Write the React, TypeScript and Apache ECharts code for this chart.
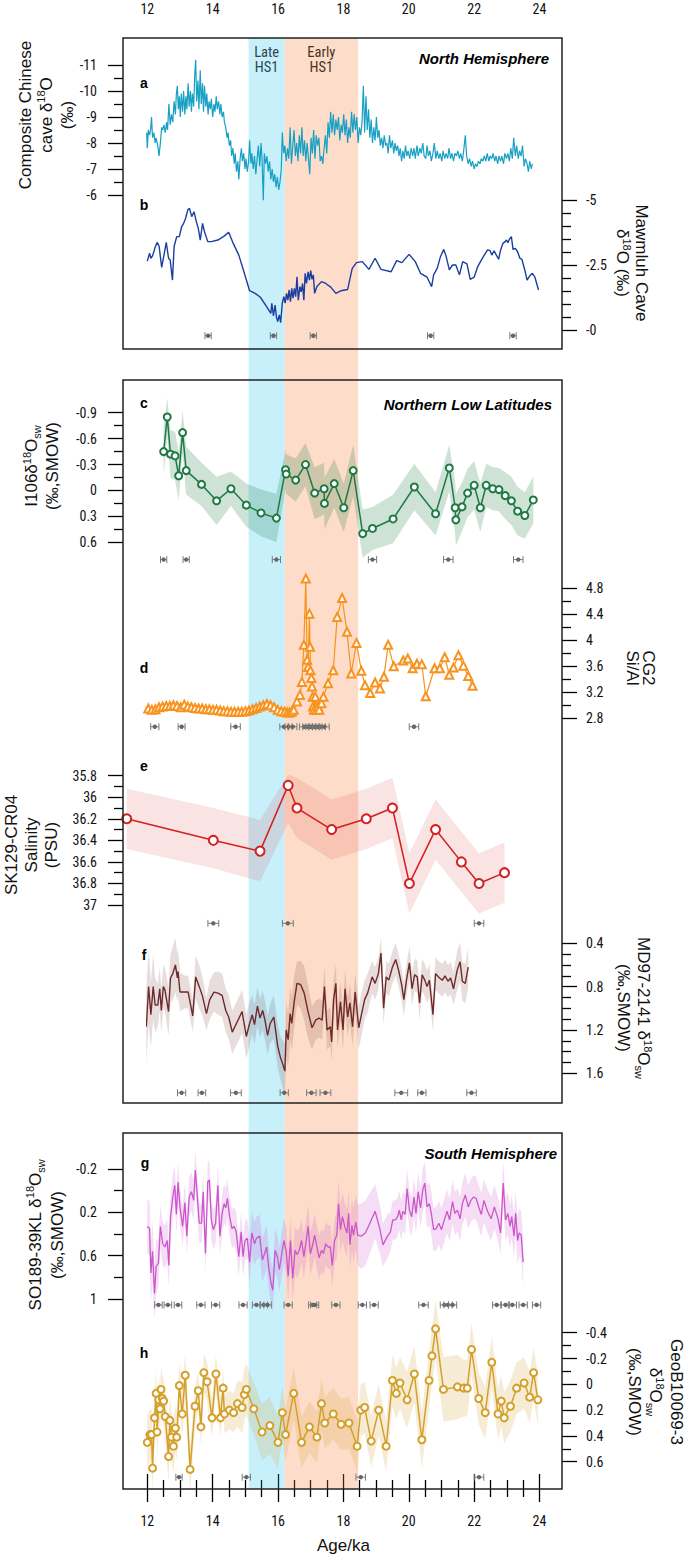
import React, { useEffect, useRef } from 'react';
import * as echarts from 'echarts';

// ---------- DATA ----------
// (a) Composite Chinese cave d18O  [age ka, permil]
const caveA: number[][] = [[11.98,-8.4],[12.0,-7.8],[12.03,-8.5],[12.07,-8.3],[12.1,-8.5],[12.13,-9.0],[12.16,-8.2],[12.2,-8.4],[12.24,-8.0],[12.27,-8.2],[12.32,-7.9],[12.36,-7.5],[12.4,-8.0],[12.44,-8.6],[12.47,-8.5],[12.51,-8.7],[12.55,-8.4],[12.59,-8.8],[12.62,-8.5],[12.66,-9.5],[12.7,-8.7],[12.74,-9.1],[12.78,-8.8],[12.82,-9.6],[12.86,-9.1],[12.89,-9.9],[12.92,-10.2],[12.95,-9.3],[12.98,-9.8],[13.01,-9.0],[13.04,-9.9],[13.08,-9.2],[13.11,-10.0],[13.15,-9.1],[13.18,-9.8],[13.21,-9.3],[13.25,-10.3],[13.28,-9.4],[13.32,-10.0],[13.35,-9.2],[13.38,-9.9],[13.42,-9.4],[13.45,-10.6],[13.48,-11.2],[13.51,-9.6],[13.55,-10.4],[13.58,-9.3],[13.62,-10.8],[13.65,-9.5],[13.69,-10.3],[13.72,-9.2],[13.75,-10.2],[13.79,-9.4],[13.82,-9.9],[13.86,-9.1],[13.89,-9.6],[13.93,-9.3],[13.96,-9.7],[14.0,-9.0],[14.04,-9.5],[14.07,-9.2],[14.11,-9.8],[14.14,-9.3],[14.18,-9.6],[14.22,-9.1],[14.25,-9.5],[14.29,-9.0],[14.33,-9.2],[14.36,-8.8],[14.4,-8.6],[14.44,-8.2],[14.47,-8.4],[14.51,-7.9],[14.55,-8.1],[14.58,-7.5],[14.62,-7.8],[14.66,-7.2],[14.69,-7.6],[14.73,-6.9],[14.77,-7.3],[14.8,-6.6],[14.84,-7.4],[14.88,-7.8],[14.91,-7.3],[14.95,-7.6],[14.99,-7.0],[15.02,-7.4],[15.06,-6.9],[15.1,-7.3],[15.13,-8.1],[15.17,-7.2],[15.2,-7.6],[15.24,-7.0],[15.28,-7.5],[15.32,-6.8],[15.36,-7.4],[15.4,-7.9],[15.44,-7.1],[15.48,-8.0],[15.51,-7.4],[15.55,-5.8],[15.58,-7.6],[15.62,-7.2],[15.66,-7.5],[15.7,-6.9],[15.74,-7.3],[15.78,-6.6],[15.82,-7.0],[15.86,-6.5],[15.9,-6.8],[15.94,-6.3],[15.98,-6.7],[16.02,-6.2],[16.06,-6.5],[16.1,-7.0],[16.13,-8.4],[16.17,-7.6],[16.21,-7.9],[16.25,-7.3],[16.29,-7.8],[16.33,-7.4],[16.37,-8.6],[16.41,-7.2],[16.45,-7.9],[16.49,-8.5],[16.53,-7.5],[16.57,-8.0],[16.61,-7.3],[16.65,-8.3],[16.69,-7.6],[16.73,-8.6],[16.77,-7.5],[16.81,-8.1],[16.85,-7.3],[16.89,-8.0],[16.93,-7.4],[16.97,-6.8],[17.01,-8.2],[17.05,-7.6],[17.09,-8.5],[17.13,-7.4],[17.17,-8.3],[17.21,-7.9],[17.25,-8.2],[17.29,-7.3],[17.33,-7.5],[17.37,-7.2],[17.41,-7.8],[17.45,-8.3],[17.49,-7.6],[17.53,-8.8],[17.57,-8.2],[17.61,-9.2],[17.65,-8.4],[17.69,-9.1],[17.73,-8.3],[17.77,-8.9],[17.81,-8.5],[17.85,-9.0],[17.89,-8.1],[17.93,-8.7],[17.97,-8.4],[18.01,-9.1],[18.05,-8.3],[18.09,-8.9],[18.13,-8.0],[18.17,-8.6],[18.21,-8.2],[18.25,-9.2],[18.29,-8.4],[18.33,-9.1],[18.37,-8.5],[18.41,-9.0],[18.45,-8.0],[18.49,-8.6],[18.53,-8.3],[18.57,-8.8],[18.61,-10.2],[18.65,-8.4],[18.69,-9.8],[18.73,-8.5],[18.77,-9.3],[18.81,-8.2],[18.85,-8.9],[18.89,-8.0],[18.93,-8.6],[18.97,-8.1],[19.01,-9.0],[19.05,-8.2],[19.09,-8.5],[19.13,-7.9],[19.17,-8.2],[19.21,-7.8],[19.25,-8.3],[19.29,-7.9],[19.33,-8.0],[19.37,-7.6],[19.41,-8.3],[19.45,-7.8],[19.5,-8.1],[19.54,-7.6],[19.58,-8.0],[19.62,-7.7],[19.66,-7.9],[19.7,-7.5],[19.74,-7.8],[19.78,-7.3],[19.82,-7.7],[19.86,-7.4],[19.9,-7.9],[19.94,-7.5],[19.98,-7.7],[20.03,-7.4],[20.07,-7.8],[20.12,-7.5],[20.16,-7.8],[20.2,-7.4],[20.25,-7.9],[20.29,-7.5],[20.34,-7.8],[20.38,-7.6],[20.43,-8.0],[20.47,-7.5],[20.52,-7.4],[20.56,-7.9],[20.6,-7.5],[20.65,-7.7],[20.69,-7.3],[20.74,-7.6],[20.78,-8.0],[20.83,-7.4],[20.87,-7.7],[20.92,-7.4],[20.96,-7.6],[21.01,-7.3],[21.05,-7.7],[21.1,-7.4],[21.14,-7.6],[21.19,-7.4],[21.23,-7.8],[21.28,-7.4],[21.32,-7.6],[21.37,-7.3],[21.41,-7.6],[21.46,-7.5],[21.5,-7.7],[21.55,-7.4],[21.59,-7.6],[21.64,-7.3],[21.68,-7.7],[21.73,-8.3],[21.77,-7.5],[21.82,-7.2],[21.86,-7.4],[21.91,-7.1],[21.95,-7.3],[22.0,-7.0],[22.04,-7.2],[22.09,-7.1],[22.13,-7.3],[22.18,-7.2],[22.22,-7.4],[22.27,-7.3],[22.31,-7.5],[22.36,-7.3],[22.4,-7.6],[22.45,-7.3],[22.49,-7.5],[22.54,-7.4],[22.58,-7.6],[22.63,-7.3],[22.67,-7.5],[22.72,-7.2],[22.76,-7.5],[22.81,-7.3],[22.85,-7.5],[22.9,-7.2],[22.94,-7.6],[22.99,-7.4],[23.03,-7.6],[23.08,-7.3],[23.12,-7.8],[23.17,-7.4],[23.21,-8.2],[23.26,-7.5],[23.3,-7.9],[23.35,-7.4],[23.39,-7.7],[23.44,-7.5],[23.48,-7.9],[23.53,-7.1],[23.57,-7.4],[23.62,-7.2],[23.66,-6.9],[23.7,-7.3],[23.75,-7.0],[23.78,-7.2]];

// (b) Mawmluh Cave d18O
const mawmluhB: number[][] = [[12.0,-2.65],[12.07,-2.95],[12.11,-2.76],[12.16,-2.85],[12.23,-3.14],[12.3,-3.37],[12.36,-3.23],[12.44,-2.41],[12.51,-2.88],[12.58,-3.37],[12.65,-2.76],[12.7,-2.69],[12.77,-1.92],[12.82,-3.21],[12.9,-3.59],[12.98,-3.59],[13.05,-3.97],[13.11,-4.1],[13.17,-4.29],[13.24,-4.62],[13.29,-4.68],[13.36,-4.36],[13.43,-4.55],[13.5,-4.17],[13.56,-3.91],[13.62,-3.46],[13.69,-4.1],[13.75,-3.78],[13.85,-3.4],[13.96,-3.4],[14.16,-3.46],[14.36,-3.62],[14.49,-3.76],[14.63,-3.33],[14.8,-2.88],[14.97,-2.18],[15.13,-1.51],[15.3,-1.41],[15.46,-1.26],[15.64,-0.92],[15.78,-0.64],[15.81,-1.03],[15.86,-0.54],[15.91,-0.96],[15.95,-0.51],[15.99,-0.32],[16.04,-0.58],[16.08,-0.28],[16.13,-1.03],[16.18,-1.28],[16.22,-1.03],[16.26,-1.41],[16.3,-1.15],[16.34,-1.54],[16.38,-1.09],[16.42,-1.6],[16.46,-1.22],[16.5,-1.6],[16.54,-1.28],[16.58,-2.05],[16.62,-1.15],[16.67,-1.67],[16.71,-1.47],[16.75,-1.79],[16.79,-1.15],[16.83,-2.18],[16.87,-1.79],[16.92,-2.24],[16.96,-1.92],[17.0,-2.28],[17.04,-1.95],[17.08,-2.12],[17.12,-1.41],[17.19,-1.67],[17.33,-1.86],[17.46,-1.79],[17.62,-1.64],[17.77,-1.41],[17.93,-1.51],[18.13,-1.56],[18.27,-2.37],[18.4,-2.59],[18.58,-2.63],[18.78,-2.33],[18.97,-2.76],[19.15,-2.33],[19.46,-2.24],[19.63,-2.67],[19.79,-2.59],[20.01,-2.91],[20.2,-2.63],[20.36,-2.18],[20.56,-2.03],[20.7,-1.67],[20.76,-2.12],[20.87,-2.37],[20.97,-2.82],[21.07,-3.1],[21.14,-2.85],[21.24,-2.31],[21.34,-2.5],[21.44,-2.5],[21.55,-2.12],[21.65,-2.63],[21.78,-2.54],[21.88,-1.95],[22.0,-2.03],[22.11,-2.44],[22.22,-2.69],[22.31,-2.88],[22.41,-3.08],[22.49,-3.05],[22.54,-2.88],[22.61,-3.05],[22.68,-2.88],[22.75,-2.72],[22.81,-3.08],[22.88,-3.33],[22.95,-3.4],[22.99,-3.46],[23.03,-3.36],[23.08,-3.49],[23.14,-3.59],[23.19,-3.1],[23.26,-3.14],[23.33,-3.01],[23.4,-2.76],[23.46,-2.72],[23.55,-2.31],[23.62,-1.92],[23.7,-2.08],[23.78,-2.18],[23.86,-2.03],[23.97,-1.54]];
const agesB: number[][] = [[13.86,0.05],[15.86,0.05],[17.08,0.05],[20.67,0.05],[23.19,0.05]];

// (c) I106 d18Osw  [age, value, 1-sigma]
const i106C: number[][] = [[12.5,-0.45,0.28],[12.61,-0.85,0.22],[12.71,-0.42,0.28],[12.85,-0.4,0.28],[12.96,-0.17,0.28],[13.08,-0.67,0.25],[13.19,-0.23,0.28],[13.66,-0.07,0.25],[14.12,0.12,0.28],[14.56,-0.02,0.2],[15.03,0.17,0.25],[15.48,0.26,0.27],[15.95,0.32,0.28],[16.23,-0.24,0.23],[16.25,-0.19,0.23],[16.54,-0.12,0.25],[16.84,-0.3,0.25],[17.12,0.03,0.3],[17.41,-0.02,0.3],[17.42,0.15,0.3],[17.72,-0.08,0.28],[18.01,0.2,0.28],[18.3,-0.23,0.3],[18.59,0.5,0.28],[18.89,0.44,0.25],[19.52,0.33,0.28],[20.17,-0.04,0.27],[20.82,0.27,0.25],[21.24,-0.26,0.27],[21.42,0.2,0.3],[21.44,0.34,0.3],[21.63,0.19,0.28],[21.8,0.03,0.28],[22.0,-0.06,0.28],[22.19,0.2,0.28],[22.37,-0.06,0.25],[22.57,-0.02,0.25],[22.76,-0.01,0.25],[22.95,0.06,0.27],[23.14,0.12,0.28],[23.33,0.24,0.28],[23.55,0.29,0.27],[23.81,0.11,0.27]];
const agesC: number[][] = [[12.5,0.05],[13.19,0.05],[15.95,0.08],[18.89,0.08],[21.21,0.1],[23.35,0.1]];

// (d) CG2 Si/Al
const cg2D: number[][] = [[12.03,2.95],[12.14,2.93],[12.25,2.94],[12.36,2.97],[12.47,2.98],[12.58,2.99],[12.69,2.99],[12.8,3.0],[12.91,2.99],[13.02,2.97],[13.13,3.01],[13.24,2.98],[13.35,2.97],[13.46,2.96],[13.57,2.95],[13.68,2.95],[13.79,2.94],[13.9,2.94],[14.01,2.93],[14.12,2.93],[14.23,2.92],[14.34,2.91],[14.45,2.91],[14.56,2.9],[14.67,2.9],[14.78,2.9],[14.89,2.9],[15.0,2.91],[15.11,2.92],[15.22,2.94],[15.33,2.96],[15.44,2.98],[15.55,3.0],[15.66,3.02],[15.77,3.0],[15.88,2.97],[15.99,2.93],[16.1,2.91],[16.2,2.9],[16.28,2.89],[16.35,2.89],[16.42,2.9],[16.48,2.93],[16.58,3.06],[16.67,3.16],[16.73,3.36],[16.79,3.93],[16.85,4.95],[16.89,3.7],[16.92,3.59],[16.96,4.41],[16.98,3.9],[16.99,3.54],[17.02,3.42],[17.04,3.29],[17.06,3.13],[17.07,2.98],[17.1,2.93],[17.14,3.13],[17.18,2.93],[17.22,2.98],[17.26,2.93],[17.33,3.03],[17.39,3.13],[17.53,3.34],[17.69,3.54],[17.81,4.36],[17.96,4.65],[18.11,4.13],[18.24,3.49],[18.4,3.96],[18.55,3.53],[18.66,3.31],[18.82,3.19],[18.97,3.35],[19.12,3.26],[19.24,3.44],[19.37,3.93],[19.54,3.6],[19.83,3.69],[19.97,3.72],[20.12,3.57],[20.25,3.64],[20.4,3.63],[20.52,3.14],[20.79,3.57],[20.95,3.57],[21.1,3.74],[21.24,3.47],[21.37,3.58],[21.52,3.77],[21.67,3.61],[21.82,3.45],[21.95,3.3]];
const agesD: number[][] = [[12.23,0.08],[13.05,0.06],[14.7,0.1],[16.18,0.08],[16.32,0.06],[16.45,0.08],[16.8,0.1],[16.9,0.1],[17.0,0.1],[17.1,0.1],[17.2,0.1],[17.3,0.1],[17.42,0.1],[20.16,0.1]];

// (e) SK129-CR04 salinity  [age, value, band low, band high]
const salinityE: number[][] = [[11.37,36.2,35.92,36.48],[14.02,36.4,36.1,36.66],[15.45,36.5,36.21,36.78],[16.31,35.89,35.79,36.24],[16.58,36.1,35.82,36.38],[17.64,36.3,36.02,36.58],[18.7,36.2,35.92,36.48],[19.5,36.1,35.82,36.38],[20.02,36.8,36.52,37.08],[20.82,36.3,36.02,36.58],[21.61,36.6,36.32,36.88],[22.15,36.8,36.52,37.08],[22.93,36.7,36.42,36.98]];
const agesE: number[][] = [[14.02,0.12],[16.3,0.12],[22.15,0.1]];

// (f) MD97-2141 d18Osw [age, value, 1-sigma]
const md97F: number[][] = [[11.97,1.17,0.35],[12.04,0.8,0.35],[12.11,1.06,0.3],[12.18,0.8,0.3],[12.24,0.97,0.25],[12.32,0.97,0.2],[12.38,0.82,0.2],[12.43,1.02,0.2],[12.49,0.8,0.2],[12.54,0.83,0.2],[12.65,1.03,0.22],[12.71,0.72,0.22],[12.78,0.68,0.25],[12.86,0.6,0.25],[12.92,0.72,0.22],[12.94,0.66,0.22],[13.0,0.85,0.18],[13.15,0.85,0.15],[13.25,0.85,0.15],[13.39,1.07,0.15],[13.48,0.71,0.2],[13.59,0.8,0.2],[13.69,0.89,0.18],[13.81,1.05,0.15],[13.91,0.92,0.18],[14.04,0.85,0.18],[14.16,0.86,0.2],[14.29,0.88,0.2],[14.4,1.02,0.2],[14.49,1.08,0.2],[14.6,1.22,0.2],[14.76,1.12,0.2],[14.9,1.03,0.2],[15.03,1.26,0.2],[15.13,1.14,0.2],[15.21,1.06,0.18],[15.28,1.15,0.18],[15.37,0.98,0.18],[15.45,1.09,0.18],[15.53,1.02,0.18],[15.6,1.11,0.18],[15.68,1.25,0.18],[15.76,1.14,0.18],[15.87,1.08,0.2],[15.99,1.35,0.2],[16.07,1.45,0.2],[16.15,1.52,0.22],[16.21,1.58,0.25],[16.25,1.2,0.25],[16.31,1.29,0.25],[16.37,1.05,0.25],[16.42,1.14,0.25],[16.49,0.95,0.25],[16.58,0.77,0.2],[16.69,0.78,0.22],[16.8,0.86,0.25],[16.91,1.02,0.25],[17.04,1.18,0.2],[17.15,1.11,0.18],[17.26,1.09,0.18],[17.35,1.11,0.18],[17.42,0.8,0.18],[17.5,1.2,0.18],[17.6,1.17,0.18],[17.64,1.31,0.18],[17.7,0.92,0.18],[17.77,0.77,0.18],[17.82,1.2,0.18],[17.91,0.94,0.18],[17.99,1.2,0.18],[18.05,0.82,0.18],[18.13,1.08,0.18],[18.2,0.95,0.18],[18.28,1.17,0.18],[18.36,0.85,0.18],[18.47,1.18,0.2],[18.55,1.06,0.2],[18.65,0.92,0.18],[18.74,0.86,0.18],[18.88,0.71,0.15],[18.97,0.77,0.15],[19.07,0.68,0.15],[19.15,0.49,0.15],[19.23,1.0,0.15],[19.31,0.71,0.15],[19.39,0.74,0.15],[19.5,0.62,0.15],[19.6,0.55,0.15],[19.69,0.65,0.15],[19.78,0.78,0.15],[19.85,0.92,0.15],[19.93,0.74,0.15],[20.02,0.58,0.15],[20.1,0.82,0.15],[20.18,0.69,0.15],[20.26,0.71,0.15],[20.33,0.95,0.15],[20.41,0.69,0.15],[20.49,0.74,0.15],[20.56,0.8,0.15],[20.63,0.74,0.15],[20.74,1.06,0.15],[20.82,0.68,0.15],[20.94,0.72,0.15],[21.03,0.74,0.15],[21.11,0.7,0.15],[21.2,0.75,0.15],[21.28,0.72,0.15],[21.37,0.82,0.15],[21.48,0.65,0.18],[21.57,0.57,0.18],[21.64,0.75,0.18],[21.73,0.77,0.18],[21.82,0.62,0.18]];
const agesF: number[][] = [[13.05,0.08],[13.67,0.07],[14.71,0.12],[16.19,0.08],[17.02,0.1],[17.45,0.12],[19.77,0.15],[20.4,0.08],[21.92,0.1]];

// (g) SO189-39KL d18Osw [age, value, 1-sigma]
const so189G: number[][] = [[12.0,0.33,0.25],[12.07,0.35,0.25],[12.11,0.76,0.28],[12.16,0.56,0.28],[12.22,0.95,0.25],[12.27,0.7,0.25],[12.34,0.67,0.22],[12.4,0.33,0.2],[12.47,0.49,0.2],[12.54,0.52,0.2],[12.61,0.46,0.2],[12.66,0.69,0.2],[12.71,0.24,0.2],[12.78,0.06,0.2],[12.84,-0.05,0.18],[12.89,0.22,0.18],[12.94,-0.08,0.18],[13.0,0.15,0.18],[13.08,0.33,0.18],[13.15,0.11,0.18],[13.21,0.42,0.18],[13.28,0.06,0.18],[13.35,0.01,0.18],[13.42,0.09,0.18],[13.47,-0.19,0.18],[13.52,0.01,0.18],[13.59,0.3,0.18],[13.66,0.3,0.18],[13.71,0.01,0.18],[13.78,0.58,0.18],[13.85,-0.08,0.18],[13.9,-0.1,0.18],[13.96,0.27,0.18],[14.02,0.36,0.18],[14.09,0.3,0.18],[14.16,-0.05,0.18],[14.22,0.42,0.18],[14.29,0.21,0.18],[14.35,0.12,0.18],[14.4,0.16,0.18],[14.45,0.07,0.18],[14.52,0.24,0.18],[14.59,0.35,0.18],[14.66,0.33,0.18],[14.72,0.38,0.18],[14.8,0.61,0.18],[14.87,0.38,0.18],[14.93,0.61,0.18],[14.99,0.46,0.18],[15.06,0.44,0.18],[15.13,0.66,0.2],[15.2,0.39,0.2],[15.28,0.49,0.2],[15.34,0.44,0.2],[15.44,0.42,0.2],[15.52,0.64,0.2],[15.59,0.58,0.2],[15.65,0.52,0.2],[15.72,0.72,0.2],[15.79,0.86,0.2],[15.84,0.92,0.2],[15.91,0.55,0.2],[15.98,0.61,0.2],[16.04,0.73,0.2],[16.11,0.59,0.2],[16.18,0.46,0.2],[16.25,0.56,0.22],[16.31,0.79,0.22],[16.38,0.46,0.22],[16.45,0.81,0.22],[16.52,0.55,0.22],[16.58,0.59,0.22],[16.65,0.55,0.2],[16.72,0.46,0.2],[16.79,0.61,0.2],[16.85,0.49,0.2],[16.92,0.33,0.2],[16.99,0.58,0.2],[17.06,0.5,0.2],[17.12,0.41,0.2],[17.19,0.52,0.2],[17.26,0.62,0.2],[17.33,0.55,0.2],[17.39,0.58,0.2],[17.46,0.49,0.2],[17.53,0.52,0.2],[17.6,0.52,0.2],[17.66,0.69,0.2],[17.73,0.46,0.2],[17.8,0.41,0.22],[17.85,0.12,0.22],[17.91,0.36,0.22],[17.97,0.24,0.22],[18.04,0.33,0.22],[18.11,0.39,0.22],[18.16,0.21,0.22],[18.2,0.5,0.22],[18.26,0.32,0.25],[18.31,0.41,0.25],[18.38,0.29,0.25],[18.44,0.41,0.28],[18.54,0.42,0.3],[18.67,0.39,0.3],[18.81,0.3,0.28],[18.97,0.19,0.25],[19.12,0.36,0.22],[19.21,0.5,0.2],[19.35,0.42,0.2],[19.44,0.38,0.18],[19.51,0.27,0.18],[19.59,0.27,0.18],[19.66,0.24,0.18],[19.71,0.18,0.18],[19.77,0.27,0.18],[19.82,0.19,0.18],[19.89,0.22,0.18],[19.95,-0.02,0.18],[20.02,0.18,0.18],[20.09,0.24,0.18],[20.16,0.06,0.18],[20.22,0.21,0.18],[20.29,0.01,0.18],[20.36,0.16,0.18],[20.43,-0.01,0.2],[20.49,-0.07,0.2],[20.56,0.15,0.2],[20.63,0.12,0.2],[20.69,0.21,0.2],[20.76,0.36,0.2],[20.84,0.35,0.2],[20.92,0.3,0.2],[21.0,0.36,0.2],[21.09,0.27,0.2],[21.17,0.19,0.2],[21.25,0.27,0.2],[21.34,0.1,0.2],[21.41,0.21,0.2],[21.49,0.18,0.2],[21.57,0.26,0.2],[21.64,0.12,0.2],[21.73,0.04,0.2],[21.82,0.15,0.2],[21.9,0.09,0.2],[21.98,0.06,0.2],[22.06,0.07,0.2],[22.14,0.15,0.2],[22.22,0.22,0.2],[22.3,0.09,0.2],[22.41,0.19,0.2],[22.52,0.26,0.2],[22.62,0.15,0.2],[22.73,0.26,0.2],[22.81,0.39,0.2],[22.89,-0.07,0.2],[22.96,0.27,0.2],[23.03,0.21,0.2],[23.1,0.33,0.2],[23.15,0.24,0.2],[23.22,0.42,0.2],[23.27,0.21,0.2],[23.33,0.46,0.22],[23.38,0.39,0.22],[23.44,0.41,0.22],[23.5,0.66,0.22]];
const agesG: number[][] = [[12.34,0.07],[12.63,0.07],[12.94,0.07],[13.64,0.08],[14.09,0.08],[14.93,0.08],[15.34,0.08],[15.56,0.07],[15.68,0.07],[16.31,0.08],[17.06,0.08],[17.12,0.08],[17.77,0.08],[18.58,0.08],[18.94,0.08],[20.45,0.1],[21.09,0.08],[21.2,0.08],[21.34,0.08],[22.69,0.08],[22.96,0.08],[23.17,0.08],[23.5,0.08],[23.91,0.08]];

// (h) GeoB10069-3 d18Osw [age, value, 1-sigma]
const geoH: number[][] = [[12.0,0.45,0.2],[12.08,0.39,0.2],[12.13,0.39,0.2],[12.16,0.65,0.2],[12.22,0.26,0.2],[12.27,0.07,0.2],[12.3,0.37,0.2],[12.35,0.12,0.18],[12.39,0.19,0.18],[12.42,0.04,0.18],[12.46,0.11,0.18],[12.5,0.13,0.18],[12.55,0.25,0.18],[12.65,0.56,0.2],[12.69,0.28,0.2],[12.74,0.41,0.2],[12.8,0.48,0.2],[12.86,0.34,0.18],[12.9,0.41,0.18],[12.98,0.01,0.18],[13.07,0.23,0.18],[13.16,-0.07,0.18],[13.31,0.66,0.18],[13.46,0.17,0.15],[13.56,0.05,0.15],[13.64,0.33,0.15],[13.73,-0.09,0.15],[13.83,-0.02,0.15],[13.98,0.26,0.15],[14.1,-0.08,0.15],[14.24,0.26,0.15],[14.32,0.03,0.15],[14.36,0.23,0.15],[14.51,0.2,0.15],[14.64,0.22,0.15],[14.76,0.15,0.18],[14.9,0.18,0.2],[14.97,0.08,0.2],[15.03,0.04,0.2],[15.26,0.19,0.2],[15.51,0.37,0.22],[15.75,0.32,0.22],[16.0,0.45,0.2],[16.13,0.22,0.2],[16.23,0.39,0.2],[16.48,0.07,0.2],[16.72,0.45,0.2],[16.96,0.33,0.2],[17.19,0.41,0.2],[17.33,0.15,0.2],[17.43,0.3,0.2],[17.69,0.23,0.2],[17.93,0.31,0.2],[18.17,0.3,0.2],[18.42,0.48,0.2],[18.53,0.2,0.2],[18.65,0.18,0.2],[18.85,0.44,0.2],[19.08,0.2,0.2],[19.31,0.48,0.2],[19.5,-0.03,0.2],[19.62,0.07,0.2],[19.73,-0.01,0.2],[19.95,0.12,0.22],[20.17,-0.08,0.22],[20.4,0.43,0.22],[20.62,-0.03,0.22],[20.71,-0.22,0.22],[20.82,-0.43,0.22],[21.06,0.04,0.25],[21.49,0.02,0.25],[21.68,0.03,0.22],[21.79,0.03,0.22],[21.92,-0.27,0.2],[22.14,0.11,0.2],[22.34,0.22,0.2],[22.54,-0.17,0.2],[22.73,0.23,0.2],[22.83,0.13,0.2],[22.92,0.26,0.2],[23.11,0.17,0.2],[23.3,0.03,0.2],[23.53,-0.01,0.2],[23.7,0.1,0.2],[23.82,-0.09,0.2],[23.95,0.12,0.2]];
const agesH: number[][] = [[12.97,0.05],[15.03,0.08],[18.53,0.1],[22.15,0.1]];

// Heinrich stadial 1 phases [start, end] ka
const lateHS1 = [15.1, 16.2];
const earlyHS1 = [16.2, 18.45];
const ageTicks = { min: 12, max: 24, step: 2 };

// ---------- LAYOUT / STYLE ----------
const NARROW = '"Liberation Sans Narrow", "Arial Narrow", "Roboto Condensed", sans-serif';
const SANS = '"Liberation Sans", Arial, Helvetica, sans-serif';
const X_L = 147.3;
const X_W = 392.2;
const BOX_L = 123;
const BOX_R = 562;
const BOXES = [[38, 349], [380, 1103], [1133, 1489]];

type Panel = { top: number; height: number; min: number; max: number; interval: number; minor: number; inverse: boolean; side: 'left' | 'right'; wide?: boolean; fmt?: (v: number) => string };
const panels: Panel[] = [
  { top: 65, height: 130, min: -11, max: -6, interval: 1, minor: 2, inverse: true, side: 'left' },
  { top: 200, height: 130, min: -5, max: 0, interval: 2.5, minor: 5, inverse: true, side: 'right', fmt: (v) => (v === 0 ? '-0' : String(v)) },
  { top: 412.7, height: 129.6, min: -0.9, max: 0.6, interval: 0.3, minor: 2, inverse: true, side: 'left' },
  { top: 588.3, height: 130, min: 2.8, max: 4.8, interval: 0.4, minor: 2, inverse: false, side: 'right' },
  { top: 775.7, height: 129.3, min: 35.8, max: 37, interval: 0.2, minor: 2, inverse: true, side: 'left', wide: true },
  { top: 943.3, height: 130, min: 0.4, max: 1.6, interval: 0.4, minor: 4, inverse: true, side: 'right' },
  { top: 1169, height: 130, min: -0.2, max: 1.0, interval: 0.4, minor: 2, inverse: true, side: 'left' },
  { top: 1332.7, height: 129, min: -0.4, max: 0.6, interval: 0.2, minor: 2, inverse: true, side: 'right' },
];

function ageMarkerItem(params: any, api: any) {
  const a = api.value(0), e = api.value(1), y = api.value(2);
  const p0 = api.coord([a - e, y]);
  const p1 = api.coord([a + e, y]);
  const pc = api.coord([a, y]);
  const st = { stroke: '#7a7a7a', lineWidth: 1 };
  return {
    type: 'group',
    children: [
      { type: 'line', shape: { x1: p0[0] - 1.5, y1: p0[1], x2: p1[0] + 1.5, y2: p1[1] }, style: st },
      { type: 'line', shape: { x1: p0[0] - 1.5, y1: p0[1] - 3.5, x2: p0[0] - 1.5, y2: p0[1] + 3.5 }, style: st },
      { type: 'line', shape: { x1: p1[0] + 1.5, y1: p1[1] - 3.5, x2: p1[0] + 1.5, y2: p1[1] + 3.5 }, style: st },
      { type: 'circle', shape: { cx: pc[0], cy: pc[1], r: 2.2 }, style: { fill: '#666' } },
    ],
  };
}

function ageSeries(idx: number, list: number[][], yPos: number) {
  return {
    type: 'custom', xAxisIndex: idx, yAxisIndex: idx, clip: false, silent: true, z: 3,
    renderItem: ageMarkerItem,
    encode: { x: 0, y: 2 },
    data: list.map((d) => [d[0], d[1], yPos]),
  };
}

// uncertainty envelope: one polygon through the band limits of every point
function bandPolygon(idx: number, rows: number[][], color: string) {
  return {
    type: 'custom', xAxisIndex: idx, yAxisIndex: idx, clip: false, silent: true, z: 1,
    encode: { x: 0, y: [1, 2] },
    data: rows,
    renderItem: (params: any, api: any) => {
      if (params.dataIndex !== 0) return null;
      const upper = rows.map((r) => api.coord([r[0], r[2]]));
      const lower = rows.map((r) => api.coord([r[0], r[1]])).reverse();
      return { type: 'polygon', shape: { points: upper.concat(lower) }, style: { fill: color } };
    },
  };
}

function errBand(idx: number, list: number[][], color: string) {
  return bandPolygon(idx, list.map((d) => [d[0], d[1] - d[2], d[1] + d[2]]), color);
}

function title(x: number, y: number, rot: number, text: string, lh: number) {
  return {
    type: 'text', x, y, rotation: rot, z: 50,
    style: {
      text, fill: '#111', fontSize: 17, fontFamily: SANS, align: 'center', verticalAlign: 'middle', lineHeight: lh,
      rich: {
        sup: { fontSize: 11, lineHeight: 11, verticalAlign: 'top', fill: '#111', fontFamily: SANS },
        sub: { fontSize: 11, lineHeight: 11, verticalAlign: 'bottom', fill: '#111', fontFamily: SANS },
      },
    },
  };
}

function letter(x: number, y: number, t: string) {
  return { type: 'text', x, y, z: 50, style: { text: t, fill: '#000', fontSize: 14, fontWeight: 'bold', fontFamily: SANS, align: 'center', verticalAlign: 'middle' } };
}

function region(x: number, y: number, t: string) {
  return { type: 'text', x, y, z: 50, style: { text: t, fill: '#000', fontSize: 15, fontWeight: 'bold', fontStyle: 'italic', fontFamily: SANS, align: 'right', verticalAlign: 'middle' } };
}

function buildOption() {
  const tickStyle = { color: '#000', width: 1.3 };
  const kaPerPx = (ageTicks.max - ageTicks.min) / X_W;
  // a panel whose data starts before 12 ka gets a grid reaching the frame's left edge
  const grid: any[] = panels.map((p) => (p.wide
    ? { left: BOX_L, width: X_L + X_W - BOX_L, top: p.top, height: p.height }
    : { left: X_L, width: X_W, top: p.top, height: p.height }));
  grid.push({ left: X_L, width: X_W, top: BOXES[0][0], height: BOXES[2][1] - BOXES[0][0] });

  const xAxis: any[] = panels.map((p, i) => ({
    type: 'value', gridIndex: i, show: false, max: ageTicks.max,
    min: p.wide ? ageTicks.min - (X_L - BOX_L) * kaPerPx : ageTicks.min,
  }));
  const xCommon = {
    type: 'value', gridIndex: 8, min: ageTicks.min, max: ageTicks.max, interval: ageTicks.step,
    axisLine: { show: false }, splitLine: { show: false },
  };
  xAxis.push({
    ...xCommon, position: 'top',
    axisTick: { show: true, length: 15, lineStyle: tickStyle },
    minorTick: { show: true, splitNumber: 4, length: 9, lineStyle: tickStyle },
    axisLabel: { margin: 22, fontSize: 14, fontFamily: NARROW, color: '#111' },
  });
  xAxis.push({
    ...xCommon, position: 'bottom',
    axisTick: { show: true, length: 13, lineStyle: tickStyle },
    minorTick: { show: true, splitNumber: 4, length: 8, lineStyle: tickStyle },
    axisLabel: { margin: 25, fontSize: 14, fontFamily: NARROW, color: '#111' },
  });

  const yAxis: any[] = panels.map((p, i) => ({
    type: 'value', gridIndex: i, min: p.min, max: p.max, interval: p.interval, inverse: p.inverse,
    position: p.side,
    offset: p.side === 'left' ? (p.wide ? 0 : X_L - BOX_L) : BOX_R - (X_L + X_W),
    axisLine: { show: false }, splitLine: { show: false },
    axisTick: { show: true, length: 15, lineStyle: tickStyle },
    minorTick: { show: true, splitNumber: p.minor, length: 9, lineStyle: tickStyle },
    axisLabel: { margin: p.side === 'left' ? 26 : 24, fontSize: 14, fontFamily: NARROW, color: '#111', showMinLabel: true, showMaxLabel: true, formatter: p.fmt },
  }));
  yAxis.push({ type: 'value', gridIndex: 8, min: 0, max: 1, show: false });

  const bandLabel = (color: string) => ({ show: true, position: 'insideTop', distance: 7, color, fontSize: 14.5, lineHeight: 15, fontFamily: NARROW, align: 'center' });

  const series: any[] = [
    // HS1 shading over all panels
    {
      type: 'line', xAxisIndex: 8, yAxisIndex: 8, data: [], z: 20, silent: true,
      markArea: {
        silent: true,
        data: [
          [{ name: 'Late\nHS1', xAxis: lateHS1[0], itemStyle: { color: 'rgba(0,185,235,0.22)' }, label: bandLabel('#2c4753') }, { xAxis: lateHS1[1] }],
          [{ name: 'Early\nHS1', xAxis: earlyHS1[0], itemStyle: { color: 'rgba(249,130,60,0.27)' }, label: bandLabel('#4b3222') }, { xAxis: earlyHS1[1] }],
        ],
      },
    },
    // a
    { type: 'line', xAxisIndex: 0, yAxisIndex: 0, data: caveA, symbol: 'none', clip: false, lineStyle: { color: '#18a0c4', width: 1.2 }, z: 2 },
    // b
    { type: 'line', xAxisIndex: 1, yAxisIndex: 1, data: mawmluhB, symbol: 'none', clip: false, lineStyle: { color: '#1b3f9f', width: 1.4 }, z: 2 },
    ageSeries(1, agesB, 0.22),
    // c
    errBand(2, i106C, 'rgba(30,122,70,0.22)'),
    { type: 'line', xAxisIndex: 2, yAxisIndex: 2, data: i106C.map((d) => [d[0], d[1]]), symbol: 'emptyCircle', symbolSize: 7, clip: false,
      lineStyle: { color: '#1e7a45', width: 1.5 }, itemStyle: { color: '#1e7a45', borderWidth: 1.5 }, z: 2 },
    ageSeries(2, agesC, 0.8),
    // d
    { type: 'line', xAxisIndex: 3, yAxisIndex: 3, data: cg2D, symbol: 'emptyTriangle', symbolSize: 8, clip: false,
      lineStyle: { color: '#f7931e', width: 1.2 }, itemStyle: { color: '#f7931e', borderWidth: 1.2 }, z: 2 },
    ageSeries(3, agesD, 2.67),
    // e
    bandPolygon(4, salinityE.map((d) => [d[0], d[2], d[3]]), 'rgba(214,40,40,0.13)'),
    { type: 'line', xAxisIndex: 4, yAxisIndex: 4, data: salinityE.map((d) => [d[0], d[1]]), symbol: 'emptyCircle', symbolSize: 9, clip: false,
      lineStyle: { color: '#d21f1f', width: 1.5 }, itemStyle: { color: '#d21f1f', borderWidth: 1.5 }, z: 2 },
    ageSeries(4, agesE, 37.17),
    // f
    errBand(5, md97F, 'rgba(110,55,55,0.17)'),
    { type: 'line', xAxisIndex: 5, yAxisIndex: 5, data: md97F.map((d) => [d[0], d[1]]), symbol: 'none', clip: false,
      lineStyle: { color: '#6e2a2a', width: 1.4 }, z: 2 },
    ageSeries(5, agesF, 1.78),
    // g
    errBand(6, so189G, 'rgba(204,85,204,0.2)'),
    { type: 'line', xAxisIndex: 6, yAxisIndex: 6, data: so189G.map((d) => [d[0], d[1]]), symbol: 'none', clip: false,
      lineStyle: { color: '#cc55cc', width: 1.3 }, z: 2 },
    ageSeries(6, agesG, 1.055),
    // h
    errBand(7, geoH, 'rgba(212,160,50,0.2)'),
    { type: 'line', xAxisIndex: 7, yAxisIndex: 7, data: geoH.map((d) => [d[0], d[1]]), symbol: 'emptyCircle', symbolSize: 7, clip: false,
      lineStyle: { color: '#d4a02a', width: 1.5 }, itemStyle: { color: '#d4a02a', borderWidth: 1.5 }, z: 2 },
    ageSeries(7, agesH, 0.72),
  ];

  const graphic: any[] = [
    ...BOXES.map(([t, b]) => ({ type: 'rect', z: 60, silent: true, shape: { x: BOX_L, y: t, width: BOX_R - BOX_L, height: b - t }, style: { fill: 'none', stroke: '#222', lineWidth: 1.5 } })),
    letter(144, 83, 'a'), letter(144, 205, 'b'), letter(144, 403, 'c'), letter(144, 668, 'd'),
    letter(144, 766, 'e'), letter(144, 955, 'f'), letter(145, 1163, 'g'), letter(144, 1353, 'h'),
    region(549, 58, 'North Hemisphere'),
    region(552, 404, 'Northern Low Latitudes'),
    region(557, 1153, 'South Hemisphere'),
    title(46, 115, Math.PI / 2, 'Composite Chinese\ncave δ{sup|18}O\n(‰)', 21),
    title(632, 263, -Math.PI / 2, 'Mawmluh Cave\nδ{sup|18}O (‰)', 19),
    title(42, 466, Math.PI / 2, 'I106δ{sup|18}O{sub|sw}\n(‰,SMOW)', 21),
    title(640, 668, -Math.PI / 2, 'CG2\nSi/Al', 16),
    title(31, 845, Math.PI / 2, 'SK129-CR04\nSalinity\n(PSU)', 20),
    title(633, 1008, -Math.PI / 2, 'MD97-2141 δ{sup|18}O{sub|sw}\n(‰,SMOW)', 20),
    title(46, 1235, Math.PI / 2, 'SO189-39KL δ{sup|18}O{sub|sw}\n(‰,SMOW)', 22),
    title(655, 1392, -Math.PI / 2, 'GeoB10069-3\nδ{sup|18}O{sub|sw}\n(‰,SMOW)', 21),
    { type: 'text', x: X_L + X_W / 2, y: 1545, z: 50, style: { text: 'Age/ka', fill: '#111', fontSize: 17, fontFamily: SANS, align: 'center', verticalAlign: 'middle' } },
  ];

  return { animation: false, backgroundColor: '#fff', grid, xAxis, yAxis, series, graphic };
}

export default function App() {
  const ref = useRef<HTMLDivElement>(null);
  useEffect(() => {
    if (!ref.current) return;
    const chart = echarts.init(ref.current, null, { renderer: 'svg' });
    chart.setOption(buildOption() as any);
    return () => chart.dispose();
  }, []);
  return <div ref={ref} style={{ position: 'absolute', left: 0, top: 0, width: 685, height: 1555, background: '#fff' }} />;
}
